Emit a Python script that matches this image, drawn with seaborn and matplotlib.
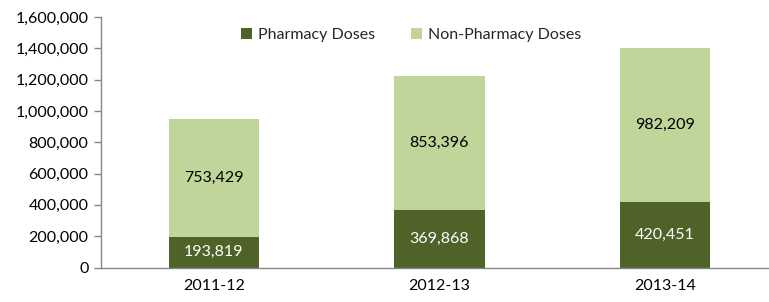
import numpy as np
import seaborn as sns
import matplotlib.pyplot as plt
from matplotlib.ticker import FuncFormatter

years = ['2011-12', '2012-13', '2013-14']
pharmacy = [193819, 369868, 420451]
non_pharmacy = [753429, 853396, 982209]

dark = '#4F6228'
light = '#C0D59A'
axis_gray = '#868686'

sns.set_style('white')
plt.rcParams['font.family'] = ['Lato', 'DejaVu Sans']
fs = 11.5

fig = plt.figure(figsize=(7.69, 3.02), dpi=100)
ax = fig.add_axes([101 / 769, 34.5 / 302, 677 / 769, 250.5 / 302])

sns.barplot(x=years, y=pharmacy, color=dark, width=0.40, saturation=1,
            linewidth=0, label='Pharmacy Doses', ax=ax)
sns.barplot(x=years, y=non_pharmacy, bottom=pharmacy, color=light, width=0.40,
            saturation=1, linewidth=0, label='Non-Pharmacy Doses', ax=ax)

fmt = lambda v: f'{v:,.0f}'
ax.bar_label(ax.containers[0], labels=[fmt(v) for v in pharmacy],
             label_type='center', color='white', fontsize=fs)
ax.bar_label(ax.containers[1], labels=[fmt(v) for v in non_pharmacy],
             label_type='center', color='black', fontsize=fs)

ax.set_xlim(-0.5, 2.5)
ax.set_ylim(0, 1600000)
ax.set_yticks(np.arange(0, 1600001, 200000))
ax.yaxis.set_major_formatter(FuncFormatter(lambda v, p: f'{v:,.0f}'))
ax.tick_params(axis='y', which='major', length=5, width=1, color=axis_gray,
               labelsize=fs, pad=4, direction='out', left=True)
ax.tick_params(axis='x', length=0, labelsize=fs, pad=8)
for lab in ax.get_xticklabels() + ax.get_yticklabels():
    lab.set_color('black')

for side in ['top', 'right']:
    ax.spines[side].set_visible(False)
for side in ['left', 'bottom']:
    ax.spines[side].set_color(axis_gray)
    ax.spines[side].set_linewidth(1)

ax.set_xlabel('')
ax.set_ylabel('')

ax.legend(loc='upper center', bbox_to_anchor=(0.458, 1.0), ncol=2,
          frameon=False, fontsize=fs, handlelength=0.7, handleheight=0.7,
          handletextpad=0.4, columnspacing=2.2, borderaxespad=0.3)

fig.savefig('out.png', dpi=100)
